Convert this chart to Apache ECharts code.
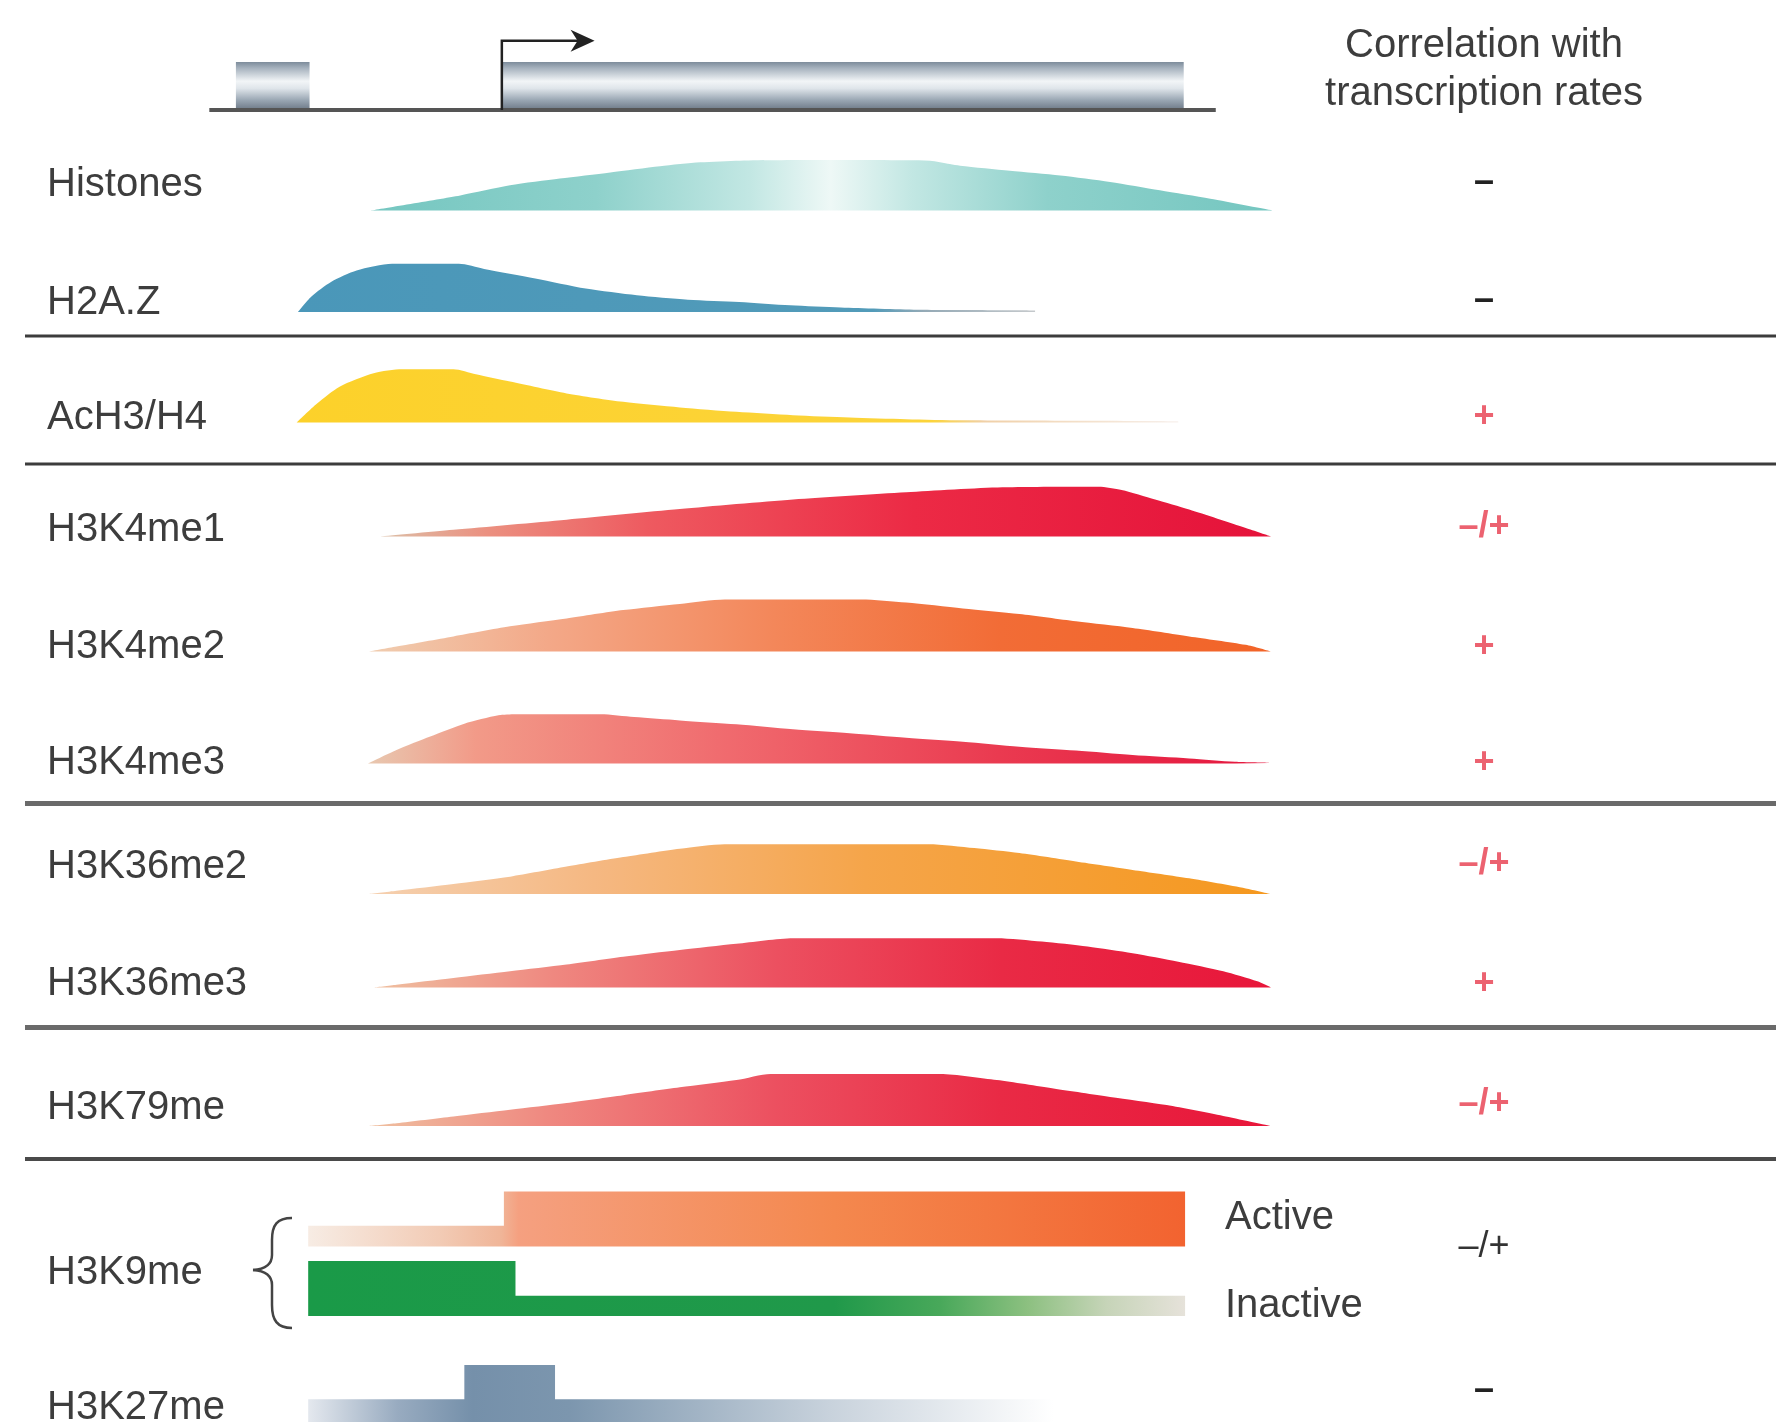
<!DOCTYPE html>
<html><head><meta charset="utf-8">
<script src="https://cdn.jsdelivr.net/npm/echarts@6/dist/echarts.min.js"></script>
<style>html,body{margin:0;padding:0;background:#fff}#c{width:1776px;height:1422px}</style>
</head><body><div id="c"></div>
<script>
// ---------------- DATA ----------------
// x positions are in % of gene body (TSS = 0, gene end = 100); y = relative enrichment
const trackNames = ['Histones','H2A.Z','AcH3/H4','H3K4me1','H3K4me2','H3K4me3','H3K36me2','H3K36me3','H3K79me','H3K9me','H3K27me'];
const correlation = ['\u2013','\u2013','+','\u2013/+','+','+','\u2013/+','+','\u2013/+','\u2013/+','\u2013'];
const headerLines = ['Correlation with','transcription rates'];
const h3k9States = ['Active','Inactive'];

const geneExons = [[-39,-28.2],[0,100]];
const geneLine = [[-42.9,0],[104.7,0]];
const tssArrow = [[0,13.6,0.865]];

const histones = [[-19.3,0],[-6.1,0.27],[1.2,0.45],[8.5,0.57],[15.9,0.68],[23.2,0.79],[29.1,0.86],[34.9,0.89],[47,0.9],[62.8,0.89],[65.7,0.83],[67.2,0.80],[74.5,0.71],[81.9,0.625],[89.2,0.51],[96.5,0.36],[103.9,0.21],[113.1,0]];
const h2az = [[-29.9,0],[-28,0.27],[-25,0.54],[-21.3,0.74],[-16.1,0.86],[-6.3,0.86],[-2.6,0.77],[4.9,0.6],[12.3,0.42],[19.8,0.30],[27.3,0.22],[34.8,0.18],[42.3,0.12],[49.7,0.08],[61,0.04],[78.2,0.025],[78.2,0]];
const ach3h4 = [[-30.1,0],[-27.1,0.34],[-23.8,0.64],[-18.8,0.88],[-14.6,0.95],[-7.1,0.95],[-3.8,0.86],[1.2,0.73],[9.5,0.52],[17.8,0.37],[26.1,0.27],[34.4,0.19],[42.7,0.13],[51,0.09],[59.3,0.06],[67.6,0.04],[99.2,0.02],[99.2,0]];
const h3k4me1 = [[-17.9,0],[-7.1,0.12],[9.5,0.30],[26.1,0.49],[42.7,0.66],[59.3,0.79],[73.4,0.88],[87.5,0.89],[90.9,0.83],[95.8,0.66],[100.8,0.48],[109.1,0.15],[112.8,0]];
const h3k4me2 = [[-19.6,0],[-15.45,0.09],[-7.1,0.27],[1.2,0.45],[9.5,0.59],[17.8,0.74],[26.1,0.85],[32.7,0.93],[52.7,0.93],[59.3,0.875],[67.6,0.77],[75.9,0.67],[84.2,0.54],[92.5,0.42],[100.8,0.27],[109.1,0.12],[112.8,0]];
const h3k4me3 = [[-19.6,0],[-15.45,0.24],[-10.5,0.48],[-5.5,0.71],[-0.5,0.86],[2,0.88],[14.5,0.88],[19.4,0.83],[26.1,0.77],[34.4,0.70],[42.7,0.61],[51,0.54],[59.3,0.46],[67.6,0.39],[75.9,0.30],[84.2,0.23],[92.5,0.15],[100.8,0.09],[107.5,0.03],[112.5,0.01],[112.5,0]];
const h3k36me2 = [[-19.6,0],[-15.45,0.06],[-7.1,0.18],[1.2,0.31],[9.5,0.49],[17.8,0.66],[26.1,0.81],[32.7,0.89],[62.6,0.89],[69.3,0.82],[75.9,0.73],[84.2,0.58],[92.5,0.43],[100.8,0.28],[109.1,0.10],[112.8,0]];
const h3k36me3 = [[-18.8,0],[-15.45,0.05],[-7.1,0.17],[1.2,0.29],[9.5,0.41],[17.8,0.55],[26.1,0.67],[34.4,0.78],[42.7,0.88],[72.6,0.88],[79.2,0.82],[85.9,0.73],[92.5,0.61],[99.2,0.46],[105.8,0.29],[110.8,0.11],[112.8,0]];
const h3k79me = [[-19.6,0],[-15.45,0.05],[-7.1,0.17],[1.2,0.29],[9.5,0.41],[17.8,0.55],[26.1,0.69],[34.4,0.82],[39.4,0.93],[64.3,0.93],[72.6,0.82],[80.9,0.67],[89.2,0.52],[97.5,0.375],[105.8,0.18],[112.8,0]];
const h3k9Active = [[-28.4,0.37],[0.3,0.37],[0.3,0.98],[100.2,0.98]];
const h3k9Inactive = [[-28.4,0.98],[2,0.98],[2,0.36],[100.2,0.36]];
const h3k27me = [[-28.4,0.405],[-5.5,0.405],[-5.5,1.02],[7.8,1.02],[7.8,0.405],[80.9,0.405]];

// ---------------- LAYOUT / STYLE ----------------
const GL = 195, GW = 1091, XMIN = -45, XMAX = 115, TH = 56;
const lin = stops => ({type:'linear',x:0,y:0,x2:1,y2:0,colorStops:stops.map(s=>({offset:s[0],color:s[1]}))});
const redGrad = [[0,'#efc0a0'],[0.2,'#ef8880'],[0.45,'#ec5060'],[0.7,'#e92a45'],[1,'#e8163a']];
const tracks = [
  {data:histones, base:210.5, smooth:true, grad:[[0,'#74c6c0'],[0.25,'#8ed1cb'],[0.42,'#c2e7e3'],[0.51,'#eef8f6'],[0.6,'#c2e7e3'],[0.75,'#8ed1cb'],[1,'#74c6c0']]},
  {data:h2az, base:312, smooth:true, grad:[[0,'#4a97b9'],[0.78,'#529bb9'],[0.85,'#95aab6'],[1,'#c5c9cc']]},
  {data:ach3h4, base:422.5, smooth:true, grad:[[0,'#fcd12a'],[0.72,'#fcd43a'],[0.78,'#f0d0a8'],[1,'#f7f0ec']]},
  {data:h3k4me1, base:536.5, smooth:true, grad:[[0,'#dcc0a8'],[0.12,'#eb9080'],[0.3,'#ee5a60'],[0.6,'#ec2a45'],[1,'#e5123a']]},
  {data:h3k4me2, base:651.5, smooth:true, grad:[[0,'#f0cdb0'],[0.2,'#f3a888'],[0.45,'#f3875a'],[0.7,'#f26c36'],[1,'#f26428']]},
  {data:h3k4me3, base:763.5, smooth:true, grad:[[0,'#e8c8b0'],[0.12,'#f29a88'],[0.4,'#f06a6e'],[0.7,'#ea3a50'],[1,'#e5163e']]},
  {data:h3k36me2, base:894, smooth:true, grad:[[0,'#f5d0b0'],[0.25,'#f5b882'],[0.55,'#f5a54a'],[1,'#f5981e']]},
  {data:h3k36me3, base:987.5, smooth:true, grad:redGrad},
  {data:h3k79me, base:1126, smooth:true, grad:redGrad},
  {data:h3k9Active, base:1246.5, smooth:false, grad:[[0,'#f7ece4'],[0.15,'#f2cbb5'],[0.22,'#f0b598'],[0.24,'#f5a080'],[0.6,'#f4884e'],[1,'#f26330']]},
  {data:h3k9Inactive, base:1316, smooth:false, grad:[[0,'#1a9a48'],[0.6,'#20994a'],[0.72,'#48a85a'],[0.82,'#8cc080'],[0.91,'#c6d4b8'],[1,'#e6e2da']]},
  {data:h3k27me, base:1422, smooth:false, grad:[[0,'#e4e8ee'],[0.12,'#98abc0'],[0.22,'#7590aa'],[0.35,'#7c96ae'],[0.7,'#c8d2dc'],[1,'#ffffff']]}
];
const labelY = [185,303,417.5,529.5,646.5,763,867,984,1107.5,1273,1408];
const corrY  = [182.4,300.2,416.8,526.7,646.8,763.4,864.3,984.3,1104.4,1247,1390];
const corrColor = ['#222','#222','#ec6270','#ec6270','#ec6270','#ec6270','#ec6270','#ec6270','#ec6270','#333','#222'];
const corrWeight = ['bold','bold','bold','bold','bold','bold','bold','bold','bold','normal','bold'];
const sepLines = [[336,3,'#3c3c3c'],[464,3,'#3c3c3c'],[803.5,5,'#6a6a6a'],[1027.5,5,'#6a6a6a'],[1159,4,'#4a4a4a']];
const FONT = '"Liberation Sans", Arial, sans-serif';

const grids = [], xAxes = [], yAxes = [], series = [];
function addGrid(top, height){
  const i = grids.length;
  grids.push({left:GL, width:GW, top:top, height:height});
  xAxes.push({type:'value', gridIndex:i, min:XMIN, max:XMAX, show:false});
  yAxes.push({type:'value', gridIndex:i, min:0, max:1, show:false});
  return i;
}
// gene diagram
const gi = addGrid(30, 80);
const boxGrad = {type:'linear',x:0,y:0,x2:0,y2:1,colorStops:[
  {offset:0,color:'#7d8c9b'},{offset:0.12,color:'#a4b0bc'},{offset:0.4,color:'#f2f5f7'},
  {offset:0.55,color:'#dfe5ea'},{offset:0.8,color:'#98a5b2'},{offset:1,color:'#6c7886'}]};
series.push({type:'custom', xAxisIndex:gi, yAxisIndex:gi, data:geneExons, silent:true, animation:false, clip:false,
  renderItem:(p,api)=>{const a=api.coord([api.value(0),0.6]), b=api.coord([api.value(1),0]);
    return {type:'rect', shape:{x:a[0],y:a[1],width:b[0]-a[0],height:b[1]-a[1]}, style:{fill:boxGrad}};}});
series.push({type:'line', xAxisIndex:gi, yAxisIndex:gi, data:geneLine, symbol:'none', clip:false, silent:true, animation:false,
  lineStyle:{color:'#555',width:4}, z:3});
series.push({type:'custom', xAxisIndex:gi, yAxisIndex:gi, data:tssArrow, silent:true, animation:false, clip:false, z:4,
  renderItem:(p,api)=>{const x0=api.value(0), x1=api.value(1), h=api.value(2);
    const a=api.coord([x0,0]), b=api.coord([x0,h]), c=api.coord([x1,h]);
    return {type:'group', children:[
      {type:'polyline', shape:{points:[a,b,[c[0]-16,c[1]]]}, style:{stroke:'#222',lineWidth:2.5,fill:null}},
      {type:'polygon', shape:{points:[[c[0],c[1]],[c[0]-24,c[1]-11],[c[0]-17,c[1]],[c[0]-24,c[1]+11]]}, style:{fill:'#222'}}
    ]};}});
// tracks
tracks.forEach(t=>{
  const i = addGrid(t.base - TH, TH);
  series.push({type:'line', xAxisIndex:i, yAxisIndex:i, data:t.data, symbol:'none', showSymbol:false,
    smooth: t.smooth ? 0.25 : false, clip:false, silent:true, animation:false,
    lineStyle:{width:0, opacity:0}, areaStyle:{opacity:1, color:lin(t.grad)}});
});

// graphics: labels, separators, header, correlation symbols, brace
const graphic = [];
sepLines.forEach(s=>graphic.push({type:'rect', shape:{x:25,y:s[0]-s[1]/2,width:1751,height:s[1]}, style:{fill:s[2]}, silent:true}));
trackNames.forEach((n,i)=>graphic.push({type:'text', x:47, y:labelY[i],
  style:{text:n, font:'40px '+FONT, fill:'#3d3d3d', textAlign:'left', textVerticalAlign:'middle'}}));
headerLines.forEach((t,i)=>graphic.push({type:'text', x:1484, y:46+i*48,
  style:{text:t, font:'40px '+FONT, fill:'#3d3d3d', textAlign:'center', textVerticalAlign:'middle'}}));
correlation.forEach((c,i)=>graphic.push({type:'text', x:1484, y:corrY[i],
  style:{text:c, font:corrWeight[i]+' 36px '+FONT, fill:corrColor[i], textAlign:'center', textVerticalAlign:'middle'}}));
h3k9States.forEach((t,i)=>graphic.push({type:'text', x:1225, y:[1218,1306][i],
  style:{text:t, font:'40px '+FONT, fill:'#3d3d3d', textAlign:'left', textVerticalAlign:'middle'}}));
const braceStyle = {stroke:'#444', lineWidth:2.5, fill:null};
[
  {type:'bezierCurve', shape:{x1:292,y1:1218,cpx1:277,cpy1:1218,cpx2:272,cpy2:1225,x2:272,y2:1240}},
  {type:'line', shape:{x1:272,y1:1240,x2:272,y2:1255}},
  {type:'bezierCurve', shape:{x1:272,y1:1255,cpx1:272,cpy1:1264,cpx2:266,cpy2:1269,x2:253,y2:1270}},
  {type:'bezierCurve', shape:{x1:253,y1:1270,cpx1:266,cpy1:1271,cpx2:272,cpy2:1276,x2:272,y2:1285}},
  {type:'line', shape:{x1:272,y1:1285,x2:272,y2:1305}},
  {type:'bezierCurve', shape:{x1:272,y1:1305,cpx1:272,cpy1:1320,cpx2:277,cpy2:1328,x2:292,y2:1328}}
].forEach(e=>{e.style = braceStyle; e.silent = true; graphic.push(e);});

const chart = echarts.init(document.getElementById('c'), null, {renderer:'canvas'});
chart.setOption({animation:false, backgroundColor:'#fff', grid:grids, xAxis:xAxes, yAxis:yAxes, series:series, graphic:graphic});
</script></body></html>
